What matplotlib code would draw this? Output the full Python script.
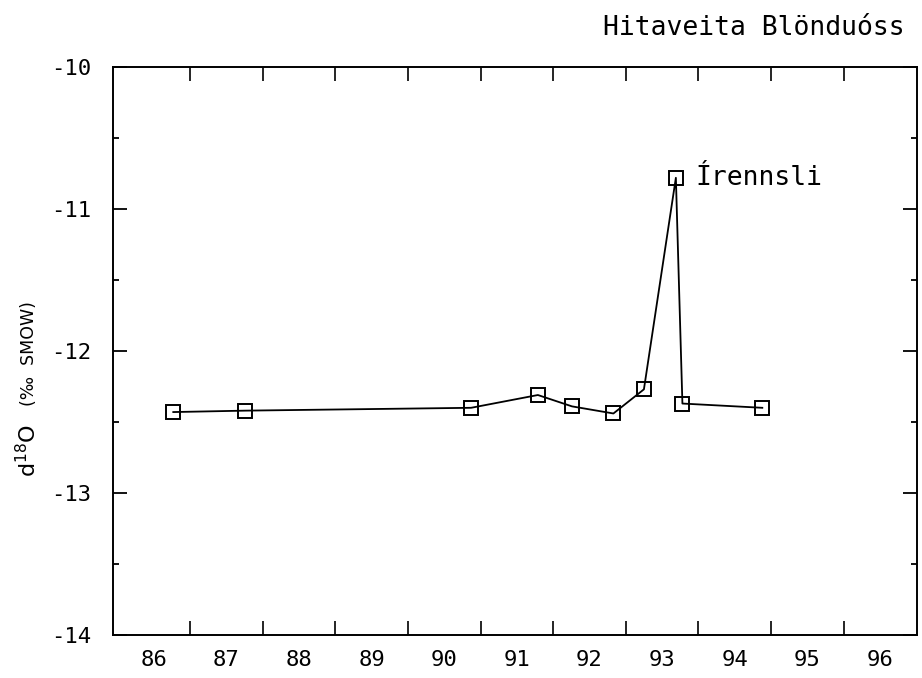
import matplotlib
matplotlib.use("Agg")
import matplotlib.pyplot as plt
import numpy as np

plt.rcParams['font.family'] = ['DejaVu Sans Mono', 'DejaVu Sans']
plt.rcParams['axes.unicode_minus'] = False

# ar (brot af ari) og d18O gildi
ar = [86.77, 87.76, 90.87, 91.79, 92.26, 92.83, 93.25, 93.69, 93.78, 94.88]
d18o = [-12.43, -12.42, -12.40, -12.31, -12.39, -12.44, -12.27, -10.78, -12.37, -12.40]
ar_merki = ['86', '87', '88', '89', '90', '91', '92', '93', '94', '95', '96']
stod = "Hitaveita Blönduóss"
skyring = "Írennsli"
skyring_idx = 7

fig = plt.figure(figsize=(9.22, 6.78), dpi=100)
ax = fig.add_axes([113/922, 1-635/678, (917-113)/922, (635-67)/678])

ax.plot(ar, d18o, color='black', lw=1.3, marker='s', ms=9.5,
        mfc='none', mec='black', mew=1.4)

ax.set_xlim(85.94, 97.01)
ax.set_ylim(-14, -10)

# aramot sem meginmerki, artol i midju
ax.set_xticks(np.arange(87, 97))
ax.set_xticklabels([])
ax.set_xticks(np.arange(86.5, 97, 1.0), labels=ar_merki, minor=True)
ax.tick_params(axis='x', which='major', direction='in', length=10, width=1.2,
               top=True, bottom=True)
ax.tick_params(axis='x', which='minor', length=0, labelsize=16, pad=11)

ax.set_yticks([-14, -13, -12, -11, -10])
ax.set_yticks(np.arange(-13.5, -10, 1.0), minor=True)
ax.tick_params(axis='y', which='major', direction='in', length=10, width=1.3,
               left=True, right=True, labelsize=16, pad=16)
ax.tick_params(axis='y', which='minor', direction='in', length=4.5, width=1.3,
               left=True, right=True)

for s in ax.spines.values():
    s.set_linewidth(1.4)

ax.annotate(skyring, (ar[skyring_idx], d18o[skyring_idx]), xytext=(14, 0),
            textcoords='offset points', fontsize=19, va='center', ha='left')

fig.text(905/922, 1-28/678, stod, fontsize=19, ha='right', va='center')

fig.text(36/922, 1-477/678, r'd$^{18}$O', fontsize=16, rotation=90,
         family='DejaVu Sans', rotation_mode='anchor', ha='left', va='baseline')
fig.text(34/922, 1-406/678, '(‰  SMOW)', fontsize=12.5, rotation=90,
         family='DejaVu Sans', rotation_mode='anchor', ha='left', va='baseline')

fig.savefig('out.png', dpi=100)
